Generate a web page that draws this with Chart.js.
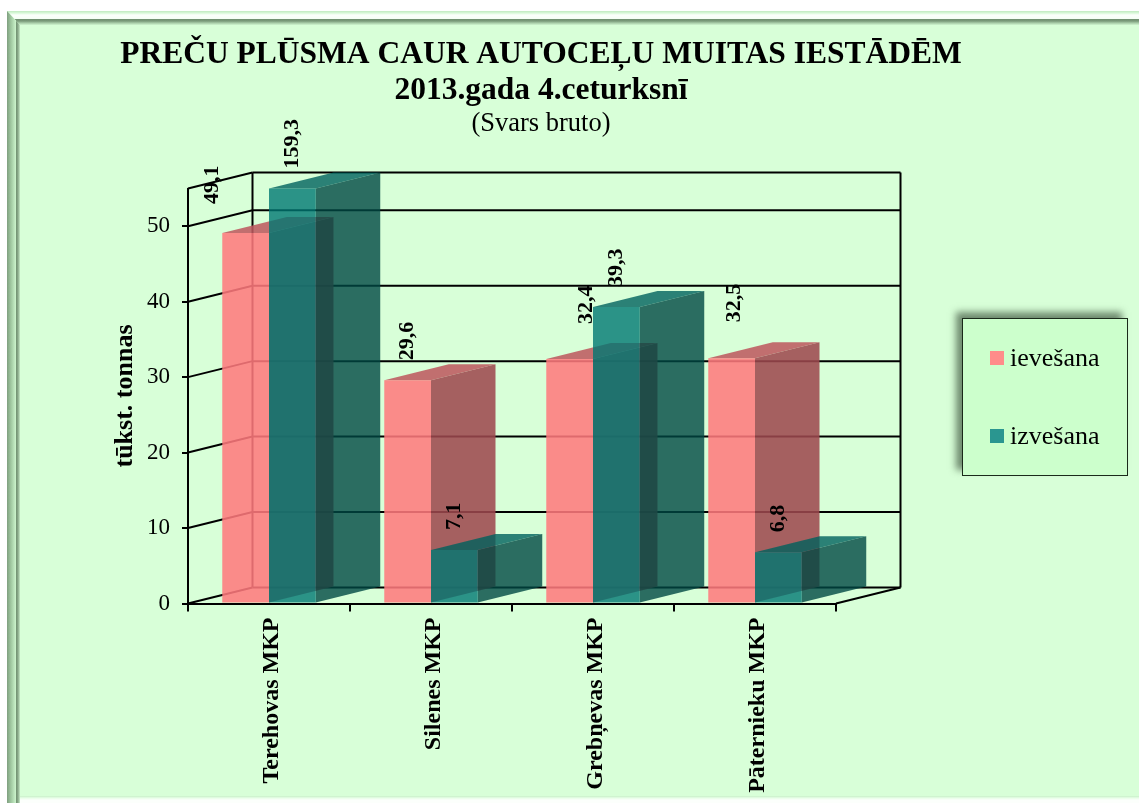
<!DOCTYPE html>
<html>
<head>
<meta charset="utf-8">
<title>Preču plūsma</title>
<script src="https://cdn.jsdelivr.net/npm/chart.js@4/dist/chart.umd.js"></script>
<style>
    html, body { margin: 0; padding: 0; width: 1139px; height: 803px; overflow: hidden; background: #ffffff; }
    #page { position: absolute; left: 7px; top: 11px; width: 1140px; height: 800px; background: #d8ffd8; }
    #frameTop { position: absolute; left: 7px; top: 11px; width: 1140px; height: 14px;
        background: linear-gradient(to bottom, #c0eac0 0, #d8f8d8 2px, #fcfffc 4px, #f6fff6 7.5px, #6f8f6f 8px, #7a9a7a 10px, #a8cca8 12px, #d0f6d0 14px);
        clip-path: polygon(0 0, 100% 0, 100% 100%, 13px 100%); }
    #frameLeft { position: absolute; left: 7px; top: 11px; width: 13px; height: 800px;
        background: linear-gradient(to right, #7f9f7f 0, #a0c8a0 4px, #c8f0c8 8.5px, #6f8f6f 9px, #8aaa8a 11px, #c8ecc8 13px);
        clip-path: polygon(0 0, 100% 14px, 100% 100%, 0 100%); }
    #frameBottom { position: absolute; left: 20px; top: 796px; width: 1130px; height: 7px;
        background: linear-gradient(to bottom, #c8f0c8 0, #e8ffe8 2px, #fcfffc 4px); }
    canvas { position: absolute; left: 0; top: 0; }
    #legend { position: absolute; left: 962px; top: 318px; width: 164px; height: 156px; background: #ccffcc;
        border: 1px solid #1a2a1a; box-shadow: -6px -6px 7px rgba(40, 60, 40, 0.6);
        font-family: "Liberation Serif", serif; font-size: 26px; color: #000; }
    .legendRow { position: absolute; left: 27px; display: flex; align-items: center; white-space: nowrap; height: 26px; }
    .legendRow i { display: block; width: 14px; height: 14px; margin-right: 6px; }
</style>
</head>
<body>
<div id="page"></div>
<div id="frameTop"></div>
<div id="frameLeft"></div>
<div id="frameBottom"></div>
<canvas id="chart" width="1082" height="803"></canvas>
<div id="legend"></div>
<script>
const categories = ["Terehovas MKP", "Silenes MKP", "Grebņevas MKP", "Pāternieku MKP"];
const ievesana = [49.1, 29.6, 32.4, 32.5];
const izvesana = [159.3, 7.1, 39.3, 6.8];
const yTicks = [0, 10, 20, 30, 40, 50];
const yMax = 55;
const titleLines = ["PREČU PLŪSMA CAUR AUTOCEĻU MUITAS IESTĀDĒM", "2013.gada 4.ceturksnī"];
const subtitleText = "(Svars bruto)";
const yTitle = "tūkst. tonnas";

const depthX = 64.5;
const depthY = -16;
const serif = '"Liberation Serif", serif';

// hand-moved labels in the original, dataset:index -> [dx, dy]
const labelShift = { "0:0": [-33, -9], "0:2": [17, -15], "0:3": [3, -16] };

const palette = [
    { front: "rgba(255,122,125,0.87)", side: "rgba(157,72,78,0.87)", top: "rgba(190,90,95,0.87)", solid: "#ff8c8a" },
    { front: "rgba(0,120,115,0.8)", side: "rgba(0,72,68,0.8)", top: "rgba(0,98,94,0.8)", solid: "#2a9690" }
];

function poly(ctx, pts, fill) {
    ctx.beginPath();
    pts.forEach((p, i) => i ? ctx.lineTo(p[0], p[1]) : ctx.moveTo(p[0], p[1]));
    ctx.closePath();
    ctx.fillStyle = fill;
    ctx.fill();
}

function line(ctx, x1, y1, x2, y2) {
    ctx.beginPath();
    ctx.moveTo(x1, y1);
    ctx.lineTo(x2, y2);
    ctx.stroke();
}

function drawWalls(chart) {
    const { ctx, chartArea: a, scales: { y } } = chart;
    ctx.save();
    ctx.strokeStyle = "#000";
    ctx.lineWidth = 2;
    yTicks.forEach(v => {
        const py = y.getPixelForValue(v);
        line(ctx, a.left, py, a.left + depthX, py + depthY);
        line(ctx, a.left + depthX, py + depthY, a.right + depthX, py + depthY);
    });
    line(ctx, a.left, a.top, a.left + depthX, a.top + depthY);
    line(ctx, a.left + depthX, a.top + depthY, a.right + depthX, a.top + depthY);
    line(ctx, a.left + depthX, a.top + depthY, a.left + depthX, a.bottom + depthY);
    line(ctx, a.right + depthX, a.top + depthY, a.right + depthX, a.bottom + depthY);
    line(ctx, a.right, a.bottom, a.right + depthX, a.bottom + depthY);
    line(ctx, a.left, a.top, a.left, a.bottom);
    ctx.restore();
}

function drawBars(chart) {
    const { ctx, chartArea: a } = chart;
    // pink goes first so that the teal sits on top of it
    chart.data.datasets.forEach((ds, di) => {
        const colors = palette[di];
        chart.getDatasetMeta(di).data.forEach(bar => {
            const left = bar.x - bar.width / 2;
            const right = bar.x + bar.width / 2;
            const top = Math.max(bar.y, a.top);
            poly(ctx, [[right, top], [right + depthX, top + depthY], [right + depthX, bar.base + depthY], [right, bar.base]], colors.side);
            poly(ctx, [[left, top], [right, top], [right + depthX, top + depthY], [left + depthX, top + depthY]], colors.top);
            ctx.save();
            ctx.beginPath();
            ctx.rect(a.left, a.top, a.right - a.left, a.bottom - a.top);
            ctx.clip();
            bar.draw(ctx, a);
            ctx.restore();
        });
    });
}

function drawLabels(chart) {
    const { ctx, chartArea: a } = chart;
    ctx.save();
    ctx.fillStyle = "#000";
    ctx.font = "bold 22px " + serif;
    ctx.textAlign = "left";
    ctx.textBaseline = "middle";
    chart.data.datasets.forEach((ds, di) => {
        chart.getDatasetMeta(di).data.forEach((bar, i) => {
            const shift = labelShift[di + ":" + i] || [0, 0];
            const top = Math.max(bar.y, a.top);
            ctx.save();
            ctx.translate(bar.x + shift[0], top - 20 + shift[1]);
            ctx.rotate(-Math.PI / 2);
            ctx.fillText(String(ds.data[i]).replace(".", ","), 0, 0);
            ctx.restore();
        });
    });
    ctx.restore();
}

const box3dPlugin = {
    id: "box3d",
    beforeDatasetsDraw(chart) {
        drawWalls(chart);
        drawBars(chart);
        drawLabels(chart);
        return false;
    }
};

new Chart(document.getElementById("chart"), {
    type: "bar",
    data: {
        labels: categories,
        datasets: [
            { label: "ievešana", data: ievesana, backgroundColor: palette[0].front },
            { label: "izvešana", data: izvesana, backgroundColor: palette[1].front }
        ]
    },
    plugins: [box3dPlugin],
    options: {
        responsive: false,
        animation: false,
        categoryPercentage: 0.577,
        barPercentage: 1,
        plugins: {
            legend: { display: false },
            tooltip: { enabled: false },
            title: {
                display: true,
                text: titleLines,
                color: "#000",
                font: { family: serif, size: 31.5, weight: "bold", lineHeight: 1.143 },
                padding: { top: 37, bottom: 0 }
            },
            subtitle: {
                display: true,
                text: subtitleText,
                color: "#000",
                font: { family: serif, size: 26.5, weight: "normal", lineHeight: 1 },
                padding: { top: 2, bottom: 51 }
            }
        },
        scales: {
            x: {
                grid: { drawOnChartArea: false, color: "#000", lineWidth: 2, tickLength: 8 },
                border: { color: "#000", width: 2 },
                afterFit(scale) { scale.height = 199.5; },
                ticks: {
                    color: "#000",
                    minRotation: 90,
                    maxRotation: 90,
                    padding: 6,
                    labelOffset: 2.5,
                    font: { family: serif, size: 24, weight: "bold" }
                }
            },
            y: {
                min: 0,
                max: yMax,
                afterBuildTicks(scale) { scale.ticks = yTicks.map(v => ({ value: v })); },
                afterFit(scale) { scale.width = 188; },
                grid: { drawOnChartArea: false, color: "#000", lineWidth: 2, tickLength: 6 },
                border: { color: "#000", width: 2 },
                title: {
                    display: true,
                    text: yTitle,
                    color: "#000",
                    font: { family: serif, size: 26, weight: "bold" },
                    padding: { top: 110, bottom: 0 }
                },
                ticks: { color: "#000", padding: 12, font: { family: serif, size: 23 } }
            },
            // empty axis, only keeps the room on the right so the title stays centred on the canvas
            spacer: {
                position: "right",
                grid: { display: false },
                border: { display: false },
                ticks: { display: false },
                afterFit(scale) { scale.width = 246; }
            }
        }
    }
});

// legend is a separate box in the original, off to the right of the plot
const legendBox = document.getElementById("legend");
[["ievešana", 26], ["izvešana", 104]].forEach(([name, top], i) => {
    const row = document.createElement("div");
    row.className = "legendRow";
    row.style.top = top + "px";
    row.innerHTML = `<i style="background:${palette[i].solid}"></i>${name}`;
    legendBox.appendChild(row);
});
</script>
</body>
</html>
